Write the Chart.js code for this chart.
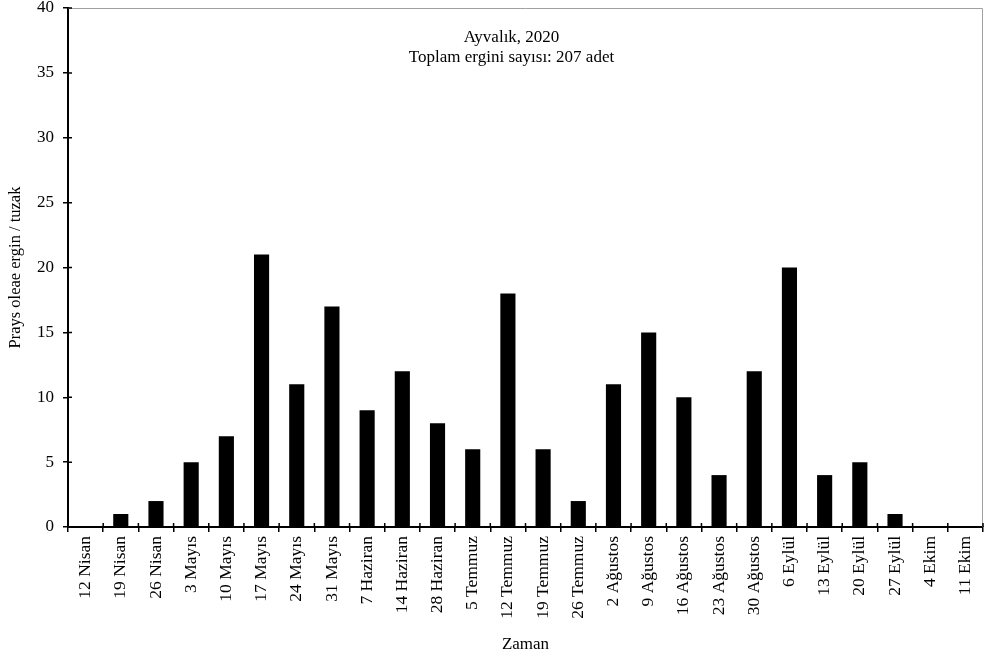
<!DOCTYPE html>
<html>
<head>
<meta charset="utf-8">
<script src="https://cdn.jsdelivr.net/npm/chart.js@4"></script>
<style>
  html, body { margin: 0; padding: 0; background: #fff; }
  #wrap { width: 984px; height: 657px; }
</style>
</head>
<body>
<div id="wrap"><canvas id="c" width="984" height="657"></canvas></div>
<script>
// ── Data ────────────────────────────────────────────────────────────────────
const dates = ['12 Nisan', '19 Nisan', '26 Nisan', '3 Mayıs', '10 Mayıs', '17 Mayıs', '24 Mayıs',
  '31 Mayıs', '7 Haziran', '14 Haziran', '28 Haziran', '5 Temmuz', '12 Temmuz', '19 Temmuz',
  '26 Temmuz', '2 Ağustos', '9 Ağustos', '16 Ağustos', '23 Ağustos', '30 Ağustos', '6 Eylül',
  '13 Eylül', '20 Eylül', '27 Eylül', '4 Ekim', '11 Ekim'];
const counts = [0, 1, 2, 5, 7, 21, 11, 17, 9, 12, 8, 6, 18, 6, 2, 11, 15, 10, 4, 12, 20, 4, 5, 1, 0, 0];
const titleLines = ['Ayvalık, 2020', 'Toplam ergini sayısı: 207 adet'];
const yTitle = 'Prays oleae ergin / tuzak';
const xTitle = 'Zaman';

const FONT = "'Liberation Serif', 'Times New Roman', serif";

// ── Plugins ─────────────────────────────────────────────────────────────────

// gray frame on top/right, inner tick marks, title text inside the plot
const decor = {
  id: 'decor',
  afterDraw(chart) {
    const { ctx, chartArea: a, scales } = chart;
    ctx.save();
    ctx.strokeStyle = '#a0a0a0';
    ctx.lineWidth = 1;
    ctx.beginPath();
    ctx.moveTo(a.left, a.top + 0.5);
    ctx.lineTo(a.right - 0.5, a.top + 0.5);
    ctx.lineTo(a.right - 0.5, a.bottom);
    ctx.stroke();

    ctx.strokeStyle = '#000';
    ctx.lineWidth = 1.5;
    ctx.beginPath();
    scales.y.ticks.forEach((t, i) => {
      const y = scales.y.getPixelForTick(i);
      ctx.moveTo(a.left, y);
      ctx.lineTo(a.left + 4, y);
    });
    const n = dates.length;
    for (let i = 0; i <= n; i++) {
      const x = a.left + (a.right - a.left) * i / n;
      ctx.moveTo(x, a.bottom);
      ctx.lineTo(x, a.bottom - 4);
    }
    ctx.stroke();

    ctx.fillStyle = '#000';
    ctx.font = '17px ' + FONT;
    ctx.textAlign = 'center';
    ctx.textBaseline = 'middle';
    const cx = (a.left + a.right) / 2 - 14;
    ctx.fillText(titleLines[0], cx, a.top + 30);
    ctx.fillText(titleLines[1], cx, a.top + 50);
    ctx.restore();
  }
};

// ── Chart ───────────────────────────────────────────────────────────────────

new Chart(document.getElementById('c'), {
  type: 'bar',
  data: {
    labels: dates,
    datasets: [{
      data: counts,
      backgroundColor: '#000',
      borderWidth: 0,
      barPercentage: 0.43,
      categoryPercentage: 1
    }]
  },
  options: {
    responsive: false,
    animation: false,
    devicePixelRatio: 1,
    layout: { padding: { top: 8, right: 1, left: 0, bottom: 0 } },
    plugins: { legend: { display: false }, tooltip: { enabled: false } },
    scales: {
      x: {
        afterFit: s => { s.height = 130; s.paddingLeft = 0; s.paddingRight = 0; },
        grid: { offset: true, drawOnChartArea: false, drawTicks: true, tickLength: 5, color: '#000', lineWidth: 1.5 },
        border: { color: '#000', width: 2 },
        ticks: { color: '#000', font: { family: FONT, size: 17.5 }, minRotation: 90, maxRotation: 90, padding: 4, autoSkip: false },
        title: { display: true, text: xTitle, color: '#000', font: { family: FONT, size: 17 }, padding: { top: 0, bottom: 2 } }
      },
      y: {
        min: 0, max: 40,
        afterFit: s => { s.width = 68; s.paddingTop = 0; s.paddingBottom = 0; },
        grid: { drawOnChartArea: false, drawTicks: true, tickLength: 5, color: '#000', lineWidth: 1.5 },
        border: { color: '#000', width: 2 },
        ticks: { stepSize: 5, color: '#000', font: { family: FONT, size: 17 }, padding: 9 },
        title: { display: true, text: yTitle, color: '#000', font: { family: FONT, size: 16.5 }, padding: { top: 6, bottom: 0 } }
      }
    }
  },
  plugins: [decor]
});
</script>
</body>
</html>
